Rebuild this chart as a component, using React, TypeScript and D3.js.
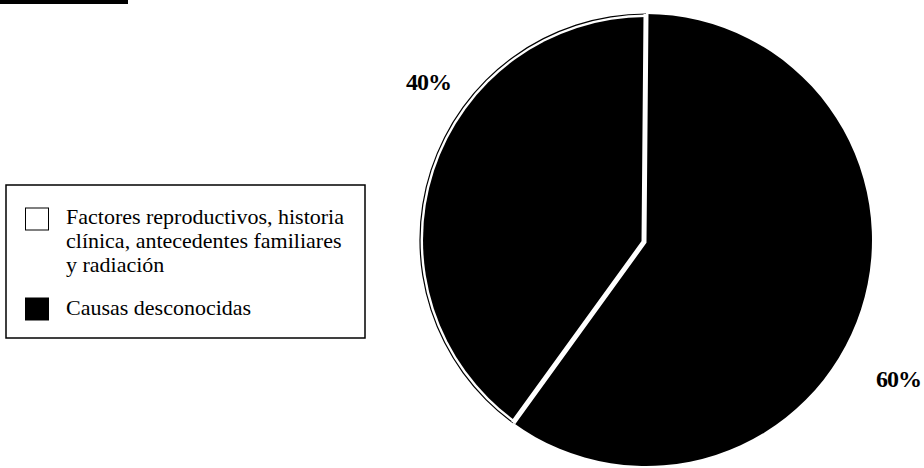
import React from "react";
import * as d3 from "d3";

// Share of cases by cause
const causes = [
  "Factores reproductivos, historia clínica, antecedentes familiares y radiación",
  "Causas desconocidas",
];
const shares = [40, 60];
const shareLabels = ["40%", "60%"];
const legendLines = [
  ["Factores reproductivos, historia", "clínica, antecedentes familiares", "y radiación"],
  ["Causas desconocidas"],
];
const swatchFills = ["#ffffff", "#000000"];

const W = 924;
const H = 468;
const cx = 646;
const cy = 240;
const R = 226;
const FONT = "'Liberation Serif', 'Times New Roman', serif";

export default function App() {
  const data = causes.map((c, i) => ({ cause: c, value: shares[i], label: shareLabels[i] }));
  // Counter-clockwise from 12 o'clock: the 40% slice sits on the left
  const pie = d3
    .pie<{ cause: string; value: number; label: string }>()
    .value((d) => d.value)
    .sort(null)
    .startAngle(0)
    .endAngle(-2 * Math.PI);
  const arcs = pie(data);
  const arcGen = d3.arc<d3.PieArcDatum<any>>().innerRadius(0).outerRadius(R);
  const innerArc = d3.arc<d3.PieArcDatum<any>>().innerRadius(0).outerRadius(R - 3);
  const rimArc = d3.arc<d3.PieArcDatum<any>>().innerRadius(R - 0.6).outerRadius(R + 0.6);

  // Divider endpoints along the slice boundaries
  const boundary = (a: number) => [cx + Math.sin(a) * R, cy - Math.cos(a) * R];
  const first = arcs[0];
  const [tx, ty] = boundary(first.startAngle);
  const [bx, by] = boundary(first.endAngle);

  return (
    <svg
      width={W}
      height={H}
      style={{ position: "fixed", left: 0, top: 0, background: "#fff" }}
      fontFamily={FONT}
    >
      <rect x={0} y={0} width={W} height={H} fill="#fff" />
      {/* header rule */}
      <rect x={0} y={0} width={128} height={4} fill="#000" />

      {/* legend */}
      <rect x={6} y={185} width={359} height={153} fill="#fff" stroke="#000" strokeWidth={1.5} />
      {legendLines.map((lines, i) => {
        const top = i === 0 ? 208 : 298;
        const base = i === 0 ? 224 : 315;
        return (
          <g key={i}>
            <rect
              x={25.5}
              y={top}
              width={23}
              height={22}
              fill={swatchFills[i]}
              stroke="#000"
              strokeWidth={1}
            />
            {lines.map((t, j) => (
              <text key={j} x={66} y={base + j * 24} fontSize={22} fill="#000">
                {t}
              </text>
            ))}
          </g>
        );
      })}

      {/* pie */}
      <g transform={`translate(${cx},${cy})`}>
        {arcs.map((a, i) =>
          i === 0 ? (
            <g key={i}>
              <path d={innerArc(a) as string} fill="#000" />
              <path d={rimArc(a) as string} fill="#000" />
            </g>
          ) : (
            <path key={i} d={arcGen(a) as string} fill="#000" />
          )
        )}
      </g>
      <polyline
        points={`${tx},${ty} ${cx - 2},${cy + 2} ${bx},${by}`}
        fill="none"
        stroke="#fff"
        strokeWidth={5}
        strokeLinejoin="miter"
      />

      {/* value labels */}
      <text x={406} y={90} fontSize={24} fontWeight="bold" fill="#000" letterSpacing={-1}>
        {shareLabels[0]}
      </text>
      <text x={876} y={387} fontSize={24} fontWeight="bold" fill="#000" letterSpacing={-1}>
        {shareLabels[1]}
      </text>
    </svg>
  );
}
